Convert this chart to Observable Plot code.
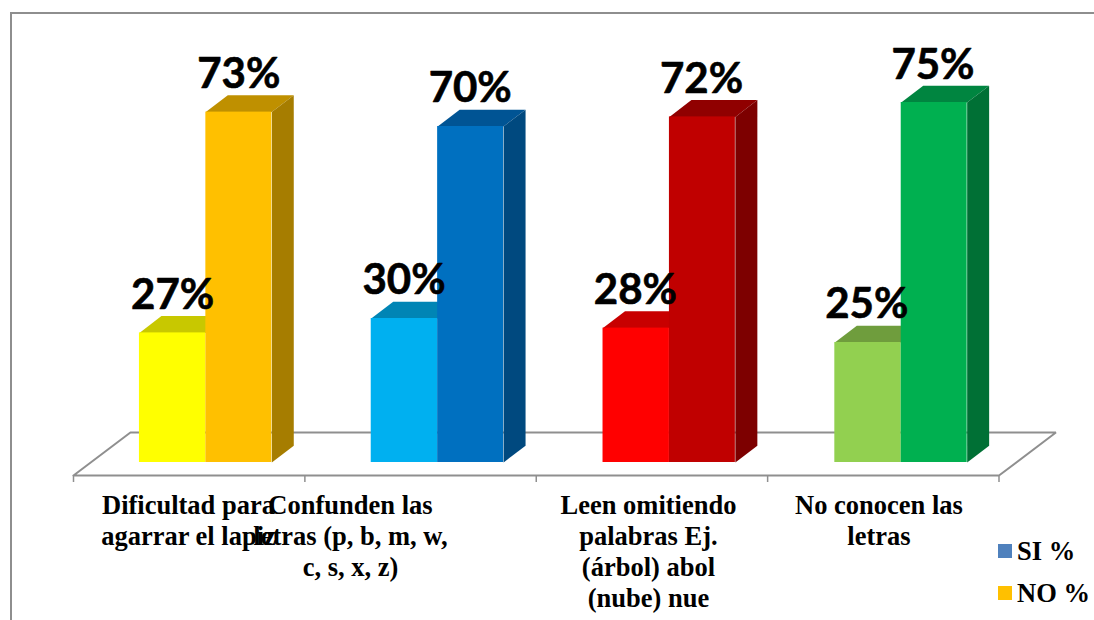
<!DOCTYPE html>
<html lang="es">
<head>
<meta charset="utf-8">
<script src="https://cdn.jsdelivr.net/npm/d3@7"></script>
<script src="https://cdn.jsdelivr.net/npm/@observablehq/plot@0.6"></script>
<style>
  html, body { margin: 0; padding: 0; background: #fff; overflow: hidden; }
  #page { position: relative; width: 1094px; height: 620px; }
  #page svg { display: block; position: absolute; left: 0; top: 0; }
  #edge { position: absolute; left: 10px; top: 12px; right: 0; bottom: 0;
          border-left: 2px solid #8e8e8e; border-top: 2px solid #8e8e8e; box-sizing: border-box; }
  #legend { position: absolute; left: 998px; top: 530px; font: bold 26.5px "Liberation Serif", serif; color: #000; }
  #legend div { display: flex; align-items: center; height: 42px; white-space: nowrap; }
  #legend i { display: inline-block; width: 14px; height: 14px; margin-right: 5px; }
</style>
</head>
<body>
<div id="page"><div id="edge"></div><div id="legend"></div></div>
<script>
const categories = [
  "Dificultad para\nagarrar el lapiz",
  "Confunden las\nletras (p, b, m, w,\nc, s, x, z)",
  "Leen omitiendo\npalabras Ej.\n(árbol) abol\n(nube) nue",
  "No conocen las\nletras"
];
const siValues = [27, 30, 28, 25];
const noValues = [73, 70, 72, 75];
const siFront = ["#FFFF00", "#00B0F0", "#FF0000", "#92D050"];
const siTop   = ["#C8C800", "#0085B5", "#C80000", "#6F9D3D"];
const noFront = ["#FFC000", "#0070C0", "#C00000", "#00B050"];
const noTop   = ["#BF9000", "#005494", "#900000", "#008540"];
const noSide  = ["#A67D00", "#00497F", "#7D0000", "#007035"];
const legendNames = ["SI %", "NO %"];
const legendColors = ["#4F81BD", "#FFC000"];

// Layout, in the chart's own units (x: category slots, y: percent)
const slotStep = 1.0018;
const slotSi = 0.285, slotMid = 0.572, slotNo = 0.857;
const depthX = 0.095, depthY = 3.5;
const floorFront = -2.71, floorBack = 6.25, floorDepthX = 0.246;
const labelCenters = [0.497, 1.197, 2.485, 3.481];

const faces = (values, tops, sides, left, right, tag) => values.flatMap((v, i) => {
  const l = i * slotStep + left, r = i * slotStep + right;
  const top = [[l, v], [r, v], [r + depthX, v + depthY], [l + depthX, v + depthY]];
  const side = [[r, 0], [r + depthX, depthY], [r + depthX, v + depthY], [r, v]];
  const row = (face, name, fill) => face.map(([x, y]) => ({x, y, fill, id: tag + name + i}));
  return [...row(top, "t", tops[i]), ...(sides ? row(side, "s", sides[i]) : [])];
});
const fronts = (values, colors, left, right) => values.map((v, i) => ({
  x1: i * slotStep + left, x2: i * slotStep + right, y: v, fill: colors[i]
}));

const floorPoly = [
  {x: 0, y: floorFront}, {x: 4, y: floorFront},
  {x: 4 + floorDepthX, y: floorBack}, {x: floorDepthX, y: floorBack}, {x: 0, y: floorFront}
];

const faceMark = rows => Plot.line(rows, {x: "x", y: "y", z: "id", fill: "fill", stroke: "none"});
const frontMark = rows => Plot.rect(rows, {x1: "x1", x2: "x2", y1: 0, y2: "y", fill: "fill"});
const valueMark = (values, center) => Plot.text(values, {
  x: (d, i) => i + center, y: d => d, text: d => d + "%",
  fontFamily: "Lato, sans-serif", fontWeight: "bold", fontSize: 42, fill: "#000",
  stroke: "#000", strokeWidth: 0.6,
  lineAnchor: "bottom", dy: -24
});

const chart = Plot.plot({
  width: 1094, height: 620,
  marginLeft: 73, marginRight: 95.5, marginTop: 102, marginBottom: 145,
  x: {domain: [0, 4], axis: null},
  y: {domain: [floorFront, 75], axis: null},
  color: {type: "identity"},
  style: {background: "transparent", overflow: "visible"},
  marks: [
    Plot.line(floorPoly, {x: "x", y: "y", stroke: "#8f8f8f", strokeWidth: 2, fill: "#fff", strokeLinejoin: "miter"}),
    Plot.axisX({ticks: [0, 1, 2, 3, 4], tickFormat: () => "", tickSize: 7, stroke: "#8f8f8f", strokeWidth: 1.5, label: null}),
    faceMark(faces(siValues, siTop, null, slotSi, slotMid, "si")),
    frontMark(fronts(siValues, siFront, slotSi, slotMid)),
    faceMark(faces(noValues, noTop, noSide, slotMid, slotNo, "no")),
    frontMark(fronts(noValues, noFront, slotMid, slotNo)),
    valueMark(siValues, (slotSi + slotMid) / 2),
    valueMark(noValues, (slotMid + slotNo) / 2),
    Plot.text(categories, {
      x: (d, i) => labelCenters[i], y: floorFront, text: d => d,
      fontFamily: "Liberation Serif, serif", fontWeight: "bold", fontSize: 26.5, fill: "#000",
      lineAnchor: "top", lineHeight: 1.16, dy: 17
    })
  ]
});
const page = document.getElementById("page");
page.insertBefore(chart, page.firstChild);

const legend = d3.select("#legend").selectAll("div").data(legendNames).join("div");
legend.append("i").style("background", (d, i) => legendColors[i]);
legend.append("span").text(d => d);
</script>
</body>
</html>
